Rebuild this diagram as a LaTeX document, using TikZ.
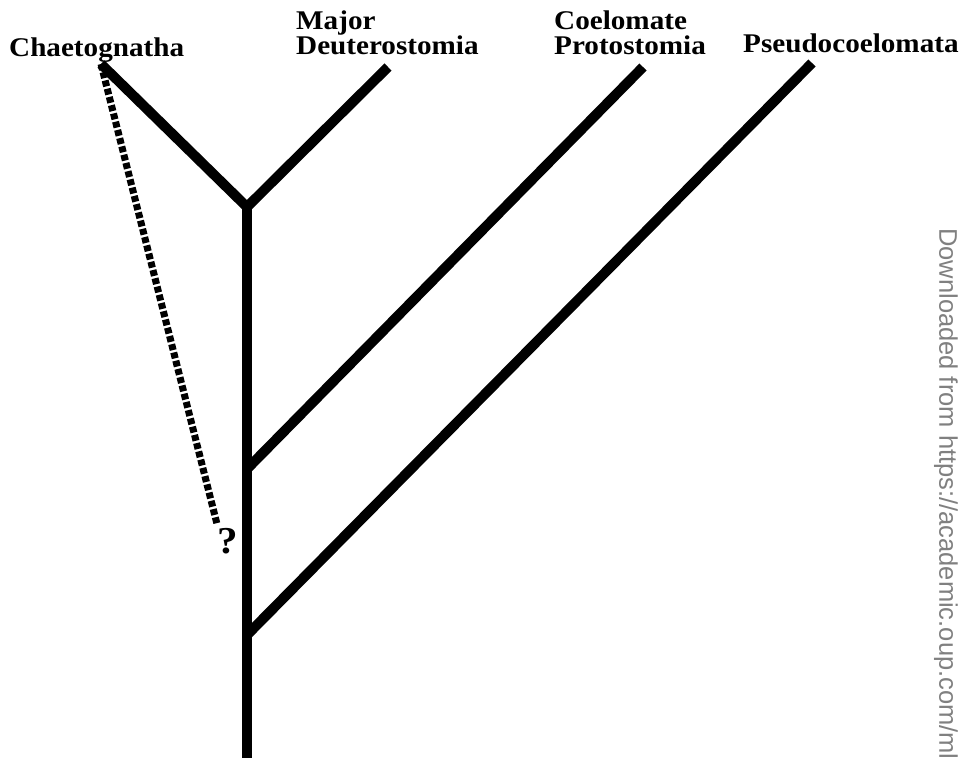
\documentclass[tikz,border=0pt]{standalone}
\usepackage{fontspec}
\setmainfont{Liberation Serif}
\newfontfamily\taxonfont{Liberation Serif}[FakeStretch=1.08]
\newfontfamily\markfont{Liberation Sans}
\begin{document}
\begin{tikzpicture}[x=1pt, y=-1pt]
\tikzset{branch/.style={line width=10pt, line join=round},
  dots/.style={line width=7pt, dash pattern=on 6pt off 2.5pt},
  taxon/.style={font=\taxonfont\bfseries\fontsize{27}{25}\selectfont, align=left, inner sep=0pt, anchor=base west}}
\useasboundingbox (0,0) rectangle (967,758);
\clip (0,0) rectangle (967,758);
% tips and junctions
\coordinate (chaetoTip) at (101,64);
\coordinate (deutTip) at (388,67);
\coordinate (protoTip) at (643,67);
\coordinate (pseudoTip) at (812,63);
\coordinate (crown) at (247,207);
\coordinate (protoJoin) at (247,469);
\coordinate (pseudoJoin) at (247,635);
\coordinate (root) at (247,758);
\coordinate (dotEnd) at (217,524);
% labels
\node[taxon] (chaeto) at (9,56) {Chaetognatha};
\node[taxon] (deut) at (296,54) {Major\\Deuterostomia};
\node[taxon] (proto) at (554,54) {Coelomate\\Protostomia};
\node[taxon] (pseudo) at (743,52) {Pseudocoelomata};
\node[font=\taxonfont\bfseries\fontsize{38}{38}\selectfont, inner sep=0pt] (query) at (228,541) {?};
% tree
\draw[branch] (root) -- (crown);
\draw[branch] (chaetoTip) -- (crown) -- (deutTip);
\draw[branch] (protoJoin) -- (protoTip);
\draw[branch] (pseudoJoin) -- (pseudoTip);
\draw[dots] (chaetoTip) -- (dotEnd);
% side note
\node[font=\markfont\fontsize{25.5}{25.5}\selectfont, text=black!50, rotate=-90, anchor=west, inner sep=0pt] (note) at (946,228) {Downloaded from https://academic.oup.com/ml};
\end{tikzpicture}
\end{document}
